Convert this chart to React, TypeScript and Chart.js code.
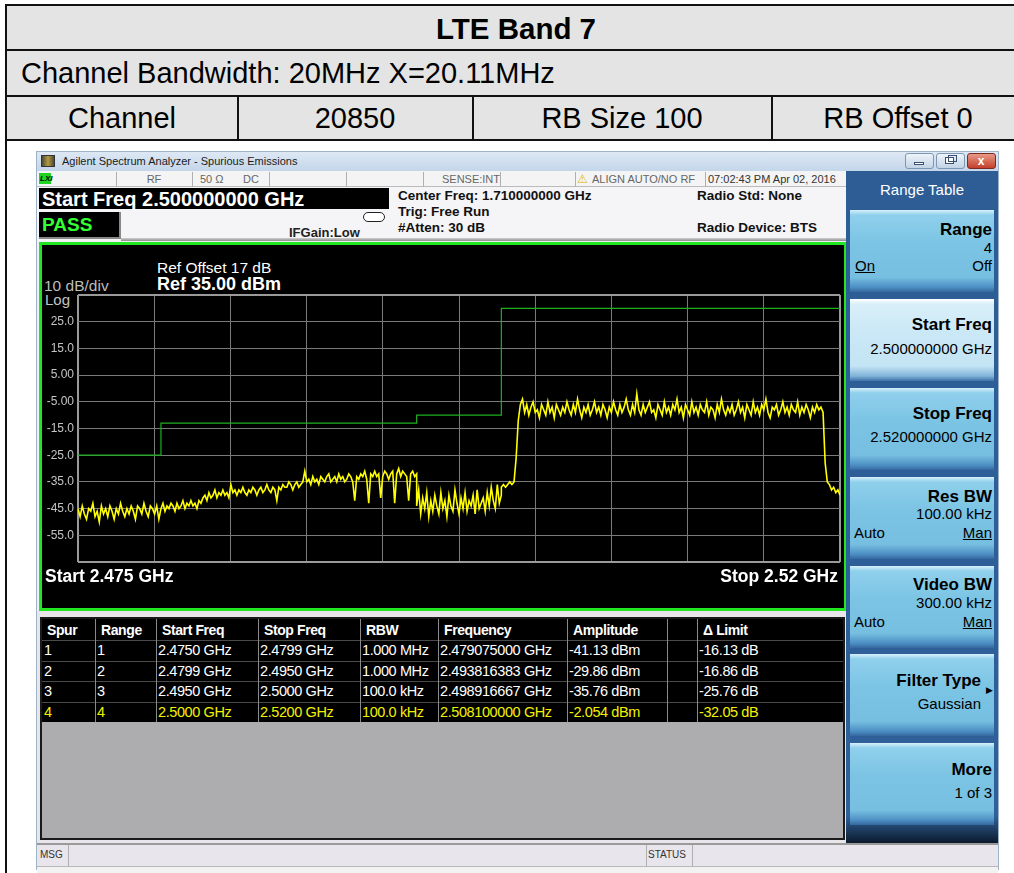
import React, { useEffect, useRef } from "react";
import { Chart, registerables } from "chart.js";

Chart.register(...registerables);

const FONT = '"Liberation Sans", Arial, Helvetica, sans-serif';

// ---- axis definitions ----
const FREQ_START = 2.475;
const FREQ_STOP = 2.52;
const xGridFreqs = [2.475, 2.4795, 2.484, 2.4885, 2.493, 2.4975, 2.502, 2.5065, 2.511, 2.5155, 2.52];
const yGridLevels = [-65, -55, -45, -35, -25, -15, -5, 5, 15, 25, 35];
const yTickLabels = ["", "-55.0", "-45.0", "-35.0", "-25.0", "-15.0", "-5.00", "5.00", "15.0", "25.0", ""];

// ---- limit line (range boundaries in GHz, limit per range in dBm) ----
const limitFreqs = [2.475, 2.4799, 2.495, 2.5, 2.52];
const limitLevels = [-25, -13, -10, 30];

// ---- measured trace, per sweep range (dBm) ----
const seg1Range = [2.475, 2.4799];
const seg1Values = [
  -45, -48, -44, -47, -49, -45, -46, -43, -48, -46, -50, -44, -47, -45, -48, -44, -46, -49, -45, -47,
  -43, -46, -48, -45, -47, -44, -46, -49, -44, -45, -47, -43, -46, -48, -44, -45, -47, -44, -49, -45,
];
const seg2Range = [2.4799, 2.495];
const seg2Values = [
  -45, -43, -46, -44, -45, -43, -44, -46, -43, -45, -44, -42, -45, -43, -44, -42, -44, -43, -45, -42, -43,
  -41, -40, -42, -39, -41, -40, -38, -41, -39, -40, -38, -40, -39, -41, -36,
  -39, -38, -40, -38, -39, -37, -39, -40, -38, -39, -37, -38, -40, -38, -37, -39, -38, -36, -38, -39, -37, -38, -42, -37, -38, -36, -37,
  -37, -35, -36, -38, -36, -35, -37, -36, -35, -31,
  -35, -34, -36, -33, -35, -34, -36, -33, -34, -35, -33, -32, -35, -34, -33, -35, -32, -34, -33, -35, -34, -32, -33, -35, -42, -33, -34,
  -32, -33, -31, -34, -43, -32, -33, -31, -33, -32, -41, -33, -31, -32, -34, -32, -31, -43, -32, -30, -33, -31, -32, -33, -42, -32, -31, -33, -32,
];
const seg3Range = [2.495, 2.5];
const seg3Values = [
  -44, -38, -47, -41, -45, -39, -48, -42, -46, -40, -44, -47, -39, -45, -42, -48, -40, -44, -46, -38,
  -43, -47, -41, -45, -39, -46, -42, -44, -40, -47, -38, -45, -43, -41, -46, -39, -44, -37, -42, -45,
  -36, -43, -40,
];
const seg4Range = [2.5, 2.52];
const seg4Values = [
  -37, -36, -37, -36, -35, -36, -35,
  -26, -12, -6,
  -4, -9, -6, -10, -7, -5, -9, -8, -11, -6,
  -8, -10, -5, -9, -7, -11, -6, -8, -10, -7,
  -9, -5, -8, -10, -6, -9, -4, -8, -11, -7,
  -9, -6, -10, -8, -5, -9, -7, -10, -6, -8,
  -11, -7, -9, -5, -8, -10, -6, -9, -7, -4,
  -8, -10, -6, -9, -2, -8, -10, -6, -9, -7,
  -5, -9, -8, -11, -6, -8, -10, -5, -9, -7,
  -10, -6, -8, -4, -9, -7, -11, -6, -8, -10,
  -5, -9, -7, -10, -6, -8, -9, -5, -10, -7,
  -8, -11, -6, -9, -4, -8, -10, -7, -9, -6,
  -10, -8, -5, -9, -7, -11, -6, -8, -10, -5,
  -9, -7, -10, -6, -8, -4, -9, -11, -7, -8,
  -6, -10, -8, -5, -9, -7, -10, -6, -8, -9,
  -5, -10, -7, -9, -6, -8, -11, -7, -9, -6,
  -8, -7, -9,
  -28, -35, -36, -38, -37, -39, -38, -40,
];

// ---- spur table ----
const spurHeaders = ["Spur", "Range", "Start Freq", "Stop Freq", "RBW", "Frequency", "Amplitude", "", "Δ Limit"];
const spurIds = ["1", "2", "3", "4"];
const spurRanges = ["1", "2", "3", "4"];
const spurStart = ["2.4750 GHz", "2.4799 GHz", "2.4950 GHz", "2.5000 GHz"];
const spurStop = ["2.4799 GHz", "2.4950 GHz", "2.5000 GHz", "2.5200 GHz"];
const spurRbw = ["1.000 MHz", "1.000 MHz", "100.0 kHz", "100.0 kHz"];
const spurFreq = ["2.479075000 GHz", "2.493816383 GHz", "2.498916667 GHz", "2.508100000 GHz"];
const spurAmp = ["-41.13 dBm", "-29.86 dBm", "-35.76 dBm", "-2.054 dBm"];
const spurDelta = ["-16.13 dB", "-16.86 dB", "-25.76 dB", "-32.05 dB"];

function segPoints(range: number[], values: number[]) {
  const n = values.length;
  return values.map((v, i) => ({ x: range[0] + ((range[1] - range[0]) * i) / (n - 1), y: v }));
}

type TxtProps = {
  x: number;
  y: number;
  text: string;
  size?: number;
  weight?: number;
  color?: string;
  align?: "left" | "right" | "center";
  extra?: React.CSSProperties;
};
function Txt({ x, y, text, size = 14, weight = 400, color = "#000", align = "left", extra }: TxtProps) {
  const h = Math.round(size * 1.6);
  const s: React.CSSProperties = {
    position: "absolute",
    top: y - h / 2,
    height: h,
    lineHeight: `${h}px`,
    fontSize: size,
    fontWeight: weight,
    color,
    fontFamily: FONT,
    whiteSpace: "nowrap",
  };
  if (align === "left") s.left = x;
  else if (align === "right") s.right = 1014 - x;
  else {
    s.left = x - 300;
    s.width = 600;
    s.textAlign = "center";
  }
  return <div style={{ ...s, ...extra }}>{text}</div>;
}

function Box({ l, t, w, h, s }: { l: number; t: number; w: number; h: number; s?: React.CSSProperties }) {
  return <div style={{ position: "absolute", left: l, top: t, width: w, height: h, boxSizing: "border-box", ...s }} />;
}

function SpectrumChart() {
  const ref = useRef<HTMLCanvasElement>(null);
  useEffect(() => {
    const canvas = ref.current;
    if (!canvas) return;
    const tracePts = [
      ...segPoints(seg1Range, seg1Values),
      ...segPoints(seg2Range, seg2Values),
      ...segPoints(seg3Range, seg3Values),
      ...segPoints(seg4Range, seg4Values),
    ];
    const limitPts = limitFreqs.map((f, i) => ({ x: f, y: limitLevels[Math.min(i, limitLevels.length - 1)] }));
    const isEdge = (ctx: any) => ctx.index === 0 || ctx.index === 10;
    const chart = new Chart(canvas, {
      type: "line",
      data: {
        datasets: [
          {
            label: "Trace",
            data: tracePts,
            borderColor: "#ffff00",
            borderWidth: 1.6,
            pointRadius: 0,
            tension: 0,
            fill: false,
            order: 1,
          },
          {
            label: "Limit",
            data: limitPts,
            borderColor: "#1fb01f",
            borderWidth: 1.2,
            stepped: "before",
            pointRadius: 0,
            fill: false,
            order: 2,
          },
        ],
      },
      options: {
        animation: false,
        responsive: false,
        devicePixelRatio: 1,
        events: [],
        layout: { padding: { top: 2, right: 2, bottom: 2, left: 0 } },
        plugins: { legend: { display: false }, tooltip: { enabled: false } },
        scales: {
          x: {
            type: "linear",
            min: FREQ_START,
            max: FREQ_STOP,
            afterBuildTicks: (ax: any) => {
              ax.ticks = xGridFreqs.map((v) => ({ value: v }));
            },
            afterFit: (ax: any) => {
              ax.height = 0;
              ax.paddingLeft = 0;
              ax.paddingRight = 0;
            },
            ticks: { display: false },
            grid: {
              color: (c: any) => (isEdge(c) ? "#9a9a9a" : "#7a7a7a"),
              lineWidth: (c: any) => (isEdge(c) ? 2 : 1),
              drawTicks: false,
            },
            border: { display: false },
          },
          y: {
            type: "linear",
            min: -65,
            max: 35,
            afterBuildTicks: (ax: any) => {
              ax.ticks = yGridLevels.map((v) => ({ value: v }));
            },
            afterFit: (ax: any) => {
              ax.width = 36;
              ax.paddingTop = 0;
              ax.paddingBottom = 0;
            },
            ticks: {
              autoSkip: false,
              color: "#c4c4c4",
              padding: 4,
              font: { family: FONT, size: 12 },
              callback: (_v: any, i: number) => yTickLabels[i],
            },
            grid: {
              color: (c: any) => (isEdge(c) ? "#9a9a9a" : "#7a7a7a"),
              lineWidth: (c: any) => (isEdge(c) ? 2 : 1),
              drawTicks: false,
            },
            border: { display: false },
          },
        },
      },
    } as any);
    return () => chart.destroy();
  }, []);
  return <canvas ref={ref} width={800} height={271} style={{ position: "absolute", left: 42, top: 293 }} />;
}

const btnGrad =
  "linear-gradient(to bottom, #d8f0fa 0px, #8fd0ec 5px, #7cc4e4 40%, #76bfe1 82%, #4d8fc4 94%, #35689f 100%)";
const btnGradSel =
  "linear-gradient(to bottom, #ffffff 0px, #d9eff9 5px, #cbe8f6 40%, #c3e4f4 82%, #7fb3d8 94%, #3f72a8 100%)";

function SoftKey({ top, sel }: { top: number; sel?: boolean }) {
  return <Box l={850} t={top} w={144} h={82} s={{ background: sel ? btnGradSel : btnGrad }} />;
}

export default function App() {
  const colEdges = [41, 95, 156, 258, 360, 438, 567, 667, 697, 843];
  const rowTops = [640, 661, 681, 702];
  const rowCols = [spurIds, spurRanges, spurStart, spurStop, spurRbw, spurFreq, spurAmp, spurIds.map(() => ""), spurDelta];
  const tableFont: React.CSSProperties = { letterSpacing: "-0.4px" };

  return (
    <div
      style={{
        position: "absolute",
        left: 0,
        top: 0,
        width: 1014,
        height: 873,
        overflow: "hidden",
        background: "#ffffff",
        fontFamily: FONT,
      }}
    >
      {/* ---------- header table ---------- */}
      <Box l={6} t={5} w={1010} h={135} s={{ background: "#e4e4e4" }} />
      <Box l={5} t={4} w={1012} h={2} s={{ background: "#111" }} />
      <Box l={5} t={49} w={1012} h={2} s={{ background: "#111" }} />
      <Box l={5} t={95} w={1012} h={2} s={{ background: "#111" }} />
      <Box l={5} t={139} w={1012} h={2} s={{ background: "#111" }} />
      <Box l={5} t={4} w={2} h={869} s={{ background: "#111" }} />
      <Box l={237} t={96} w={2} h={44} s={{ background: "#111" }} />
      <Box l={472} t={96} w={2} h={44} s={{ background: "#111" }} />
      <Box l={771} t={96} w={2} h={44} s={{ background: "#111" }} />
      <Txt x={516} y={28} text="LTE Band 7" size={29.5} weight={700} color="#000" align="center" />
      <Txt x={21} y={73} text="Channel Bandwidth: 20MHz X=20.11MHz" size={29} color="#000" />
      <Txt x={122} y={118} text="Channel" size={29} align="center" />
      <Txt x={355} y={118} text="20850" size={29} align="center" />
      <Txt x={622} y={118} text="RB Size 100" size={29} align="center" />
      <Txt x={898} y={118} text="RB Offset 0" size={29} align="center" />

      {/* ---------- analyzer window ---------- */}
      <Box l={36} t={151} w={963} h={719} s={{ background: "#eef0f4", border: "1px solid #9fb3c8" }} />
      {/* title bar */}
      <Box l={37} t={152} w={961} h={19} s={{ background: "linear-gradient(to bottom, #dde8f4, #c4d6ea)" }} />
      <Box l={41} t={155} w={14} h={12} s={{ background: "linear-gradient(to right, #4a4a3a, #b49a40, #4a4a3a)", border: "1px solid #333" }} />
      <Txt x={62} y={161} text="Agilent Spectrum Analyzer - Spurious Emissions" size={11} color="#1b1b1b" />
      <Box l={905} t={153} w={29} h={16} s={{ background: "linear-gradient(#eef4fa,#c3d3e5)", border: "1px solid #7d96b3", borderRadius: 3 }} />
      <Box l={914} t={162} w={10} h={3} s={{ background: "#fff", border: "1px solid #39506e" }} />
      <Box l={936} t={153} w={29} h={16} s={{ background: "linear-gradient(#eef4fa,#c3d3e5)", border: "1px solid #7d96b3", borderRadius: 3 }} />
      <Box l={945} t={157} w={9} h={7} s={{ border: "1px solid #39506e", background: "#fff" }} />
      <Box l={948} t={155} w={9} h={7} s={{ border: "1px solid #39506e" }} />
      <Box l={967} t={153} w={29} h={16} s={{ background: "linear-gradient(#e79a88,#c4402a)", border: "1px solid #7a2a20", borderRadius: 3 }} />
      <Txt x={981} y={161} text="x" size={12} weight={700} color="#fff" align="center" />

      {/* status row */}
      <Box l={37} t={171} w={809} h={16} s={{ background: "#f4f4f4", borderBottom: "1px solid #bbb" }} />
      {[116, 192, 269, 346, 423, 500, 575, 705].map((x) => (
        <Box key={x} l={x} t={172} w={1} h={15} s={{ background: "#b0b0b0" }} />
      ))}
      <Box l={39} t={173} w={12} h={11} s={{ background: "#21d421" }} />
      <Txt x={40} y={178} text="LXI" size={8} weight={700} color="#000" extra={{ fontStyle: "italic" }} />
      <Txt x={154} y={179} text="RF" size={11} color="#666" align="center" />
      <Txt x={200} y={179} text="50 Ω" size={11} color="#666" />
      <Txt x={243} y={179} text="DC" size={11} color="#666" />
      <Txt x={471} y={179} text="SENSE:INT" size={11} color="#666" align="center" />
      <Txt x={577} y={179} text="⚠" size={12} color="#d8b400" />
      <Txt x={592} y={179} text="ALIGN AUTO/NO RF" size={11} color="#666" />
      <Txt x={708} y={179} text="07:02:43 PM Apr 02, 2016" size={11} color="#333" />

      {/* info area */}
      <Box l={37} t={187} w={809} h={54} s={{ background: "#f5f4f7" }} />
      <Box l={39} t={188} w={350} h={21} s={{ background: "#000" }} />
      <Txt x={42} y={199} text="Start Freq 2.500000000 GHz" size={20} weight={700} color="#ffffff" />
      <Box l={39} t={212} w={82} h={27} s={{ background: "#000", borderRight: "2px solid #888", borderBottom: "2px solid #888" }} />
      <Txt x={42} y={225} text="PASS" size={19} weight={700} color="#33ff33" />
      <Txt x={289} y={232} text="IFGain:Low" size={13} weight={700} color="#222" />
      <Box l={363} t={212} w={22} h={10} s={{ border: "1px solid #222", borderRadius: 5, background: "#fff" }} />
      <Txt x={398} y={196} text="Center Freq: 1.710000000 GHz" size={13.5} weight={700} color="#111" />
      <Txt x={398} y={212} text="Trig: Free Run" size={13.5} weight={700} color="#111" />
      <Txt x={398} y={228} text="#Atten: 30 dB" size={13.5} weight={700} color="#111" />
      <Txt x={697} y={196} text="Radio Std: None" size={13.5} weight={700} color="#111" />
      <Txt x={697} y={228} text="Radio Device: BTS" size={13.5} weight={700} color="#111" />
      <Box l={121} t={238} w={725} h={3} s={{ background: "linear-gradient(#cfcfcf,#8d8d8d)" }} />

      {/* plot box */}
      <Box l={39} t={242} w={808} h={369} s={{ background: "#000", border: "3px solid #22e622" }} />
      <Txt x={44} y={285} text="10 dB/div" size={15.5} color="#bdbdbd" />
      <Txt x={157} y={267} text="Ref Offset 17 dB" size={15.5} color="#ffffff" />
      <Txt x={157} y={284} text="Ref 35.00 dBm" size={18} weight={700} color="#ffffff" />
      <Txt x={45} y={300} text="Log" size={15} color="#c4c4c4" />
      <SpectrumChart />
      <Txt x={45} y={576} text="Start  2.475 GHz" size={17.5} weight={700} color="#ffffff" />
      <Txt x={838} y={576} text="Stop 2.52 GHz" size={17.5} weight={700} color="#ffffff" align="right" />

      {/* spur table */}
      <Box l={37} t={611} w={809} h={232} s={{ background: "#e8e6ea" }} />
      <Box l={40} t={617} w={805} h={223} s={{ background: "#adacaf", border: "2px solid #1a1a1a" }} />
      <Box l={42} t={619} w={801} h={103} s={{ background: "#000" }} />
      {rowTops.map((t) => (
        <Box key={t} l={42} t={t} w={801} h={1} s={{ background: "#4a4a4a" }} />
      ))}
      {colEdges.slice(1, -1).map((x) => (
        <Box key={x} l={x} t={619} w={1} h={103} s={{ background: "#8a8a8a" }} />
      ))}
      {spurHeaders.map((h, i) => (
        <Txt key={"h" + i} x={colEdges[i] + 6} y={630} text={h} size={14} weight={700} color="#ffffff" extra={tableFont} />
      ))}
      {rowTops.map((t, r) =>
        rowCols.map((col, c) => (
          <Txt
            key={r + "-" + c}
            x={colEdges[c] + (c === 0 ? 3 : 2)}
            y={t + 10.5}
            text={col[r]}
            size={14.5}
            color={r === 3 ? "#f2f200" : "#ffffff"}
            extra={tableFont}
          />
        ))
      )}

      {/* right softkey panel */}
      <Box l={846} t={171} w={152} h={672} s={{ background: "linear-gradient(to bottom, #2e5d95 0%, #2f609a 96%, #0c1a2c 100%)" }} />
      <Txt x={922} y={190} text="Range Table" size={15} color="#ffffff" align="center" />
      <SoftKey top={210} />
      <SoftKey top={299} sel />
      <SoftKey top={388} />
      <SoftKey top={477} />
      <SoftKey top={566} />
      <SoftKey top={654} />
      <SoftKey top={743} />

      <Txt x={992} y={229} text="Range" size={17} weight={700} color="#000" align="right" />
      <Txt x={992} y={248} text="4" size={15} color="#000" align="right" />
      <Txt x={855} y={266} text="On" size={15} color="#000" extra={{ textDecoration: "underline" }} />
      <Txt x={992} y={266} text="Off" size={15} color="#000" align="right" />

      <Txt x={992} y={324} text="Start Freq" size={17} weight={700} color="#000" align="right" />
      <Txt x={992} y={349} text="2.500000000 GHz" size={15} color="#000" align="right" />

      <Txt x={992} y={413} text="Stop Freq" size={17} weight={700} color="#000" align="right" />
      <Txt x={992} y={437} text="2.520000000 GHz" size={15} color="#000" align="right" />

      <Txt x={992} y={496} text="Res BW" size={17} weight={700} color="#000" align="right" />
      <Txt x={992} y={514} text="100.00 kHz" size={15} color="#000" align="right" />
      <Txt x={854} y={533} text="Auto" size={15} color="#000" />
      <Txt x={992} y={533} text="Man" size={15} color="#000" align="right" extra={{ textDecoration: "underline" }} />

      <Txt x={992} y={584} text="Video BW" size={17} weight={700} color="#000" align="right" />
      <Txt x={992} y={603} text="300.00 kHz" size={15} color="#000" align="right" />
      <Txt x={854} y={622} text="Auto" size={15} color="#000" />
      <Txt x={992} y={622} text="Man" size={15} color="#000" align="right" extra={{ textDecoration: "underline" }} />

      <Txt x={981} y={680} text="Filter Type" size={17} weight={700} color="#000" align="right" />
      <Txt x={993} y={690} text="▶" size={9} color="#000" align="right" />
      <Txt x={981} y={704} text="Gaussian" size={15} color="#000" align="right" />

      <Txt x={992} y={769} text="More" size={17} weight={700} color="#000" align="right" />
      <Txt x={992} y={793} text="1 of 3" size={15} color="#000" align="right" />

      {/* bottom status bar */}
      <Box l={37} t={843} w={961} h={24} s={{ background: "#e9e5ec", borderTop: "2px solid #9a9a9a", borderBottom: "1px solid #b8b8b8" }} />
      <Box l={68} t={845} w={1} h={22} s={{ background: "#b0b0b0" }} />
      <Box l={646} t={845} w={1} h={22} s={{ background: "#b0b0b0" }} />
      <Box l={692} t={845} w={1} h={22} s={{ background: "#b0b0b0" }} />
      <Txt x={40} y={855} text="MSG" size={10} color="#333" />
      <Txt x={648} y={855} text="STATUS" size={10} color="#333" />
      <Box l={37} t={867} w={961} h={6} s={{ background: "#f2f2f2" }} />
    </div>
  );
}
